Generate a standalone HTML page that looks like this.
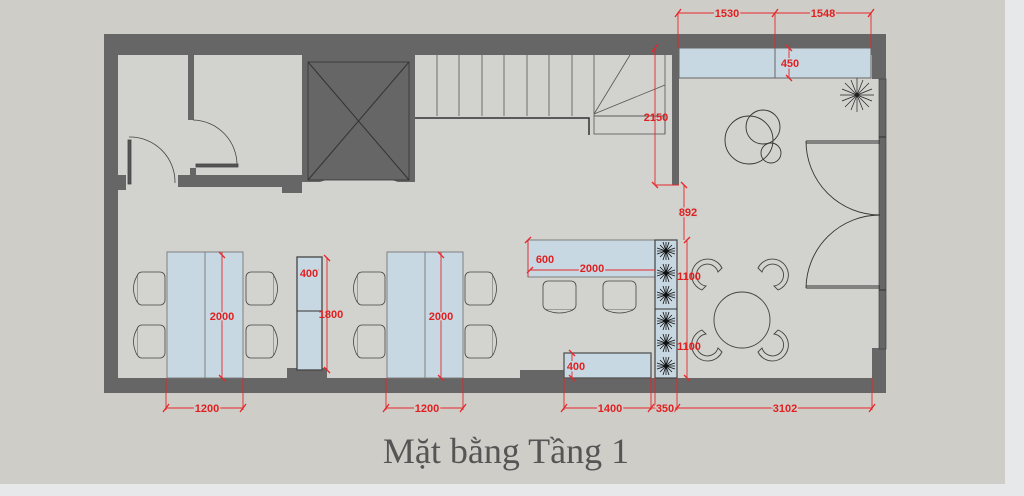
<!DOCTYPE html>
<html><head><meta charset="utf-8"><style>
html,body{margin:0;padding:0;background:#e7e8ea;}
svg{display:block}
</style></head><body>
<svg width="1024" height="496" viewBox="0 0 1024 496" xmlns="http://www.w3.org/2000/svg" font-family="Liberation Sans, sans-serif">
<rect x="0" y="0" width="1005" height="484" fill="#cecdc8"/>
<rect x="104" y="34" width="782" height="359" fill="#d2d2ce"/>
<g fill="#666">
<rect x="104" y="34" width="782" height="21"/>
<rect x="104" y="34" width="14" height="359"/>
<rect x="104" y="378" width="782" height="15"/>
<rect x="872" y="34" width="14" height="45"/>
<rect x="879" y="79" width="7" height="270"/>
<rect x="872" y="348" width="14" height="45"/>
<rect x="188" y="55" width="6" height="65"/>
<rect x="178" y="175" width="124" height="12"/>
<rect x="282" y="175" width="20" height="18"/>
<rect x="118" y="175" width="8" height="15"/>
<rect x="190" y="168" width="6" height="8"/>
<rect x="672" y="48" width="7" height="137"/>
<rect x="287" y="368" width="40" height="10"/>
<rect x="520" y="370" width="44" height="8"/>
</g>
<rect x="879" y="79" width="7" height="270" fill="none" stroke="#444" stroke-width="0.7"/>
<line x1="879" y1="137" x2="886" y2="137" stroke="#333"/><line x1="879" y1="290" x2="886" y2="290" stroke="#333"/>
<g fill="none" stroke="#444" stroke-width="0.8">
<path d="M193 120 A45 45 0 0 1 237 166"/>
<rect x="196" y="164" width="42" height="3" fill="#555"/>
<path d="M129 137 A45 45 0 0 1 175 183"/>
<rect x="128" y="140" width="3" height="44" fill="#555"/>
</g>
<path d="M302 55 H415 V182 H398 L392 180 H326 L320 182 H302 Z" fill="#666"/>
<rect x="308" y="62" width="101" height="118" fill="#666" stroke="#333" stroke-width="0.8"/>
<line x1="308" y1="62" x2="409" y2="180" stroke="#333"/><line x1="409" y1="62" x2="308" y2="180" stroke="#333"/>
<g stroke="#555" stroke-width="0.8" fill="none">
<line x1="437" y1="55" x2="437" y2="116"/><line x1="459" y1="55" x2="459" y2="116"/><line x1="482" y1="55" x2="482" y2="116"/><line x1="504" y1="55" x2="504" y2="116"/><line x1="527" y1="55" x2="527" y2="116"/><line x1="549" y1="55" x2="549" y2="116"/><line x1="572" y1="55" x2="572" y2="116"/><line x1="594" y1="55" x2="594" y2="116"/>
<line x1="594" y1="114" x2="630" y2="55"/><line x1="594" y1="114" x2="665" y2="85"/>
<line x1="594" y1="116" x2="665" y2="116"/>
<rect x="594" y="116" width="71" height="18"/>
<line x1="665" y1="55" x2="665" y2="134"/>
</g>
<path d="M415 118 H589 V135" stroke="#333" stroke-width="1.5" fill="none"/>
<g fill="#c8d8e2" stroke="#666" stroke-width="1">
<rect x="679" y="48" width="96" height="30"/><rect x="775" y="48" width="96" height="30"/>
</g>
<g fill="none" stroke="#333" stroke-width="0.9">
<circle cx="749" cy="140" r="24"/><circle cx="763" cy="127" r="17"/><circle cx="771" cy="153" r="10"/>
<path d="M806 141 H880"/><path d="M806 141 A74 74 0 0 0 880 215"/>
<path d="M806 288 H880"/><path d="M806 288 A74 74 0 0 1 880 215"/>
<line x1="806" y1="143" x2="880" y2="143"/><line x1="806" y1="286" x2="880" y2="286"/>
</g>
<g stroke="#222" stroke-width="0.7" fill="none">
<path d="M857 95 l0 -17 M857 95 l12 -12 M857 95 l17 0 M857 95 l12 12 M857 95 l0 17 M857 95 l-12 12 M857 95 l-17 0 M857 95 l-12 -12 M857 95 l6 -15 M857 95 l15 -6 M857 95 l15 6 M857 95 l6 15 M857 95 l-6 15 M857 95 l-15 6 M857 95 l-15 -6 M857 95 l-6 -15"/>
</g>
<g fill="#c8d8e2" stroke="#777" stroke-width="0.9">
<rect x="167" y="252" width="76" height="126"/><line x1="205" y1="252" x2="205" y2="378"/>
<rect x="387" y="252" width="76" height="126"/><line x1="425" y1="252" x2="425" y2="378"/>
<rect x="297" y="257" width="25" height="113" stroke="#444" stroke-width="1.3"/><line x1="297" y1="311" x2="322" y2="311" stroke="#333"/>
<rect x="528" y="240" width="129" height="37"/>
<rect x="564" y="353" width="87" height="25" stroke="#555" stroke-width="1.3"/>
<rect x="655" y="240" width="22" height="138" stroke="#444" stroke-width="1.2"/><line x1="655" y1="309" x2="677" y2="309" stroke="#333"/>
</g>
<g fill="#d3d3cf" stroke="#444" stroke-width="0.8">
<g><rect x="137" y="272" width="28" height="33" rx="5"/><path d="M137 276 q-7 12 0 26"/></g>
<g><rect x="137" y="325" width="28" height="33" rx="5"/><path d="M137 329 q-7 12 0 26"/></g>
<g><rect x="246" y="272" width="28" height="33" rx="5"/><path d="M274 276 q7 12 0 26"/></g>
<g><rect x="246" y="325" width="28" height="33" rx="5"/><path d="M274 329 q7 12 0 26"/></g>
<g><rect x="357" y="272" width="28" height="33" rx="5"/><path d="M357 276 q-7 12 0 26"/></g>
<g><rect x="357" y="325" width="28" height="33" rx="5"/><path d="M357 329 q-7 12 0 26"/></g>
<g><rect x="465" y="272" width="28" height="33" rx="5"/><path d="M493 276 q7 12 0 26"/></g>
<g><rect x="465" y="325" width="28" height="33" rx="5"/><path d="M493 329 q7 12 0 26"/></g>
<g><rect x="543" y="281" width="33" height="29" rx="5"/><path d="M546 310 q13 6 27 0"/></g>
<g><rect x="603" y="281" width="33" height="29" rx="5"/><path d="M606 310 q13 6 27 0"/></g>
</g>
<g fill="none" stroke="#444" stroke-width="0.9">
<circle cx="742" cy="320" r="28"/>
<path d="M722 268 a16 16 0 1 0 -20 22 l4 -4 a11 11 0 1 1 12 -14 z"/>
<path d="M758 268 a16 16 0 1 1 20 22 l-4 -4 a11 11 0 1 0 -12 -14 z"/>
<path d="M722 352 a16 16 0 1 1 -20 -22 l4 4 a11 11 0 1 0 12 14 z"/>
<path d="M758 352 a16 16 0 1 0 20 -22 l-4 4 a11 11 0 1 1 -12 14 z"/>
</g>
<g stroke="#111" stroke-width="0.8">
<g transform="translate(666,251)"><path d="M0 -9V9M-9 0H9M-6 -6L6 6M6 -6L-6 6M-3 -9L3 9M3 -9L-3 9M-9 -3L9 3M-9 3L9 -3"/></g>
<g transform="translate(666,273)"><path d="M0 -9V9M-9 0H9M-6 -6L6 6M6 -6L-6 6M-3 -9L3 9M3 -9L-3 9M-9 -3L9 3M-9 3L9 -3"/></g>
<g transform="translate(666,295)"><path d="M0 -9V9M-9 0H9M-6 -6L6 6M6 -6L-6 6M-3 -9L3 9M3 -9L-3 9M-9 -3L9 3M-9 3L9 -3"/></g>
<g transform="translate(666,321)"><path d="M0 -9V9M-9 0H9M-6 -6L6 6M6 -6L-6 6M-3 -9L3 9M3 -9L-3 9M-9 -3L9 3M-9 3L9 -3"/></g>
<g transform="translate(666,343)"><path d="M0 -9V9M-9 0H9M-6 -6L6 6M6 -6L-6 6M-3 -9L3 9M3 -9L-3 9M-9 -3L9 3M-9 3L9 -3"/></g>
<g transform="translate(666,366)"><path d="M0 -9V9M-9 0H9M-6 -6L6 6M6 -6L-6 6M-3 -9L3 9M3 -9L-3 9M-9 -3L9 3M-9 3L9 -3"/></g>
</g>
<g stroke="#e8262a" stroke-width="0.9" fill="none">
<path d="M678 13H871M678 13V48M775 13V48M871 13V48"/>
<path d="M655 48V185M655 185H679M684 185V240"/>
<path d="M789 48V78"/>
<path d="M528 240V277M530 270H655"/>
<path d="M687 240V378"/>
<path d="M166 378V410M243 378V410M166 408H243"/>
<path d="M386 378V410M463 378V410M386 408H463"/>
<path d="M564 378V410M651 378V410M655 378V410M677 378V410M872 378V410M564 408H872"/>
<path d="M222 252V378M441 252V378M327 257V370M301 270H319"/>
<path d="M572 353V378"/>
</g>
<g stroke="#e8262a" stroke-width="1.3">
<path d="M675 17l6 -8M772 17l6 -8M868 17l6 -8M652 52l6 -8M652 182l6 6M681 182l6 6M786 45l6 6M786 75l6 6M525 243l6 -6M527 273l6 -6M684 243l6 -6M684 375l6 6M163 412l6 -8M240 412l6 -8M383 412l6 -8M460 412l6 -8M561 412l6 -8M648 412l6 -8M674 412l6 -8M869 412l6 -8M219 252l6 6M219 375l6 6M438 252l6 6M438 375l6 6M324 255l6 6M324 367l6 6M569 350l6 6M569 375l6 6"/>
</g>
<g fill="#e02020" font-size="11" font-weight="bold" text-anchor="middle" stroke="#cecdc8" stroke-width="3" paint-order="stroke">
<text x="727" y="17">1530</text>
<text x="823" y="17">1548</text>
<text x="790" y="67" stroke="#c8d8e2">450</text>
<text x="656" y="121" stroke="none">2150</text>
<text x="688" y="216">892</text>
<text x="545" y="263" stroke="#c8d8e2">600</text>
<text x="592" y="272" stroke="#c8d8e2">2000</text>
<text x="689" y="280" stroke="none">1100</text>
<text x="689" y="350" stroke="none">1100</text>
<text x="222" y="320" stroke="#c8d8e2">2000</text>
<text x="441" y="320" stroke="#c8d8e2">2000</text>
<text x="331" y="318" stroke="none">1800</text>
<text x="309" y="277" stroke="#c8d8e2">400</text>
<text x="576" y="370" stroke="#c8d8e2">400</text>
<text x="207" y="412">1200</text>
<text x="427" y="412">1200</text>
<text x="610" y="412">1400</text>
<text x="665" y="412">350</text>
<text x="785" y="412">3102</text>
</g>
<text x="506" y="463" text-anchor="middle" font-family="Liberation Serif, serif" font-size="36" fill="#555">Mặt bằng Tầng 1</text>
</svg>
</body></html>
